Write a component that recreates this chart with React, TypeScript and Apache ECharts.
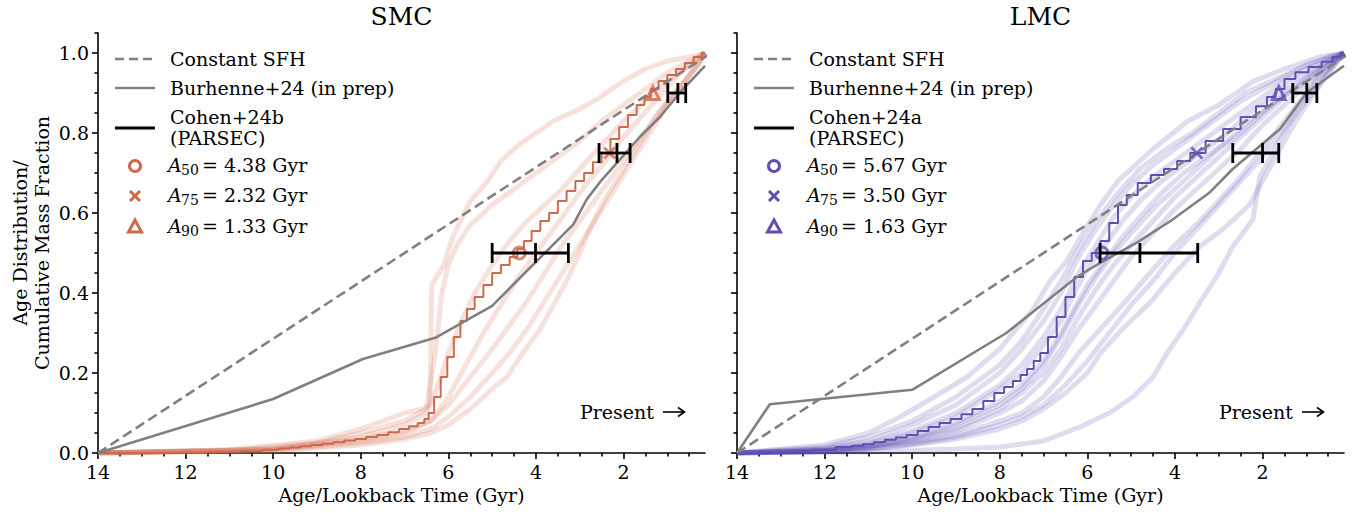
import React, { useEffect, useRef } from 'react';
import * as echarts from 'echarts';

const FONT = 'DejaVu Serif';
const SMC_COLOR = '#D0694B';
const LMC_COLOR = '#5E4FB4';
const GRAY = '#808080';
const FS = 19;

// ---- tick values ----
const xMajorTicks = [2, 4, 6, 8, 10, 12, 14];
const xMinorTicks = [0.5, 1, 1.5, 2.5, 3, 3.5, 4.5, 5, 5.5, 6.5, 7, 7.5, 8.5, 9, 9.5, 10.5, 11, 11.5, 12.5, 13, 13.5];
const yMajorTicks = [0, 0.2, 0.4, 0.6, 0.8, 1.0];
const yMinorTicks = [0.05, 0.1, 0.15, 0.25, 0.3, 0.35, 0.45, 0.5, 0.55, 0.65, 0.7, 0.75, 0.85, 0.9, 0.95, 1.05];

const panelTitles = ['SMC', 'LMC'];
const cohenLabels = ['Cohen+24b', 'Cohen+24a'];
const percentileLevels = [0.5, 0.75, 0.9];
const percentileNames = ['50', '75', '90'];

// ---- reference curves ----
const constantSFH: [number, number][] = [[14, 0], [0, 1]];

const smcBurhenne: [number, number][] = [
  [14, 0], [10, 0.135], [7.95, 0.235], [6.3, 0.288], [5.0, 0.368], [3.15, 0.571], [2.84, 0.634],
  [2.54, 0.677], [2.08, 0.734], [1.63, 0.79], [1.17, 0.84], [0.64, 0.91], [0.14, 0.968],
];
const lmcBurhenne: [number, number][] = [
  [14, 0], [13.25, 0.122], [10, 0.158], [7.85, 0.3], [6.24, 0.44], [5.7, 0.476], [4.87, 0.526],
  [4.1, 0.58], [3.2, 0.652], [2.68, 0.71], [1.6, 0.81], [1.0, 0.9], [0.14, 0.968],
];

// ---- Cohen best-fit cumulative SFHs ----
const smcCohen: [number, number][] = [
  [14, 0], [12, 0.001], [11, 0.003], [10.5, 0.005], [10, 0.008], [9.75, 0.011], [9.5, 0.014],
  [9.25, 0.017], [9, 0.02], [8.75, 0.023], [8.5, 0.027], [8.25, 0.031], [8, 0.035], [7.75, 0.04],
  [7.5, 0.045], [7.25, 0.052], [7.0, 0.06], [6.8, 0.067], [6.6, 0.075], [6.5, 0.085], [6.4, 0.1],
  [6.25, 0.14], [6.1, 0.19], [5.95, 0.24], [5.8, 0.29],
  [5.65, 0.33], [5.5, 0.36], [5.3, 0.39], [5.1, 0.42], [4.9, 0.45], [4.7, 0.47], [4.5, 0.49],
  [4.35, 0.51], [4.2, 0.53], [4.0, 0.555], [3.8, 0.58], [3.6, 0.6], [3.4, 0.63], [3.2, 0.655],
  [3.0, 0.68], [2.8, 0.7], [2.6, 0.727], [2.4, 0.75], [2.2, 0.785], [2.0, 0.815], [1.8, 0.845],
  [1.6, 0.87], [1.45, 0.89], [1.3, 0.91], [1.1, 0.93], [0.9, 0.945], [0.7, 0.96], [0.5, 0.975],
  [0.3, 0.99], [0.14, 1.0],
];
const lmcCohen: [number, number][] = [
  [14, 0], [13, 0.002], [12.5, 0.005], [12, 0.008], [11.5, 0.015], [11.25, 0.018], [11, 0.022],
  [10.75, 0.027], [10.5, 0.033], [10.25, 0.039], [10, 0.045], [9.75, 0.055], [9.5, 0.065],
  [9.25, 0.075], [9, 0.085], [8.75, 0.097], [8.5, 0.11], [8.25, 0.13], [8, 0.15], [7.8, 0.165],
  [7.6, 0.18], [7.45, 0.195], [7.3, 0.21], [7.15, 0.23], [7.0, 0.25],
  [6.8, 0.29], [6.6, 0.34], [6.4, 0.39], [6.2, 0.44], [6.0, 0.48], [5.8, 0.5], [5.6, 0.53],
  [5.4, 0.575], [5.2, 0.62], [5.0, 0.645], [4.7, 0.675], [4.4, 0.695], [4.1, 0.71], [3.8, 0.73],
  [3.5, 0.75], [3.1, 0.78], [2.7, 0.81], [2.3, 0.84], [2.0, 0.867], [1.8, 0.89], [1.6, 0.91],
  [1.4, 0.935], [1.1, 0.952], [0.8, 0.965], [0.5, 0.978], [0.3, 0.99], [0.14, 1.0],
];

// ---- faint realisations ----
const smcDraw1: [number, number][] = [[14, 0], [11, 0.008], [9, 0.03], [8, 0.06], [7.5, 0.08], [7, 0.1], [6.6, 0.11], [6.42, 0.12], [6.38, 0.42], [6.1, 0.47], [5.9, 0.54], [5.5, 0.63], [5.1, 0.68], [4.8, 0.73], [4.4, 0.77], [4.0, 0.8], [3.6, 0.83], [3.0, 0.86], [2.6, 0.885], [2.0, 0.93], [1.5, 0.96], [1.0, 0.98], [0.5, 0.99], [0.14, 1]];
const smcDraw2: [number, number][] = [[14, 0], [11, 0.006], [9, 0.025], [8, 0.05], [7, 0.08], [6.5, 0.11], [6.3, 0.25], [6.15, 0.4], [6.0, 0.47], [5.8, 0.52], [5.5, 0.57], [5.0, 0.62], [4.5, 0.66], [4.0, 0.7], [3.5, 0.74], [3.0, 0.78], [2.5, 0.83], [2.0, 0.87], [1.5, 0.91], [1.0, 0.95], [0.5, 0.98], [0.14, 1]];
const smcDraw3: [number, number][] = [[14, 0], [10, 0.01], [8, 0.04], [7, 0.07], [6.5, 0.1], [6.2, 0.18], [6.0, 0.25], [5.7, 0.33], [5.4, 0.4], [5.0, 0.47], [4.6, 0.53], [4.2, 0.58], [3.8, 0.62], [3.4, 0.66], [3.0, 0.71], [2.5, 0.77], [2.0, 0.83], [1.5, 0.88], [1.0, 0.93], [0.5, 0.97], [0.14, 1]];
const smcDraw4: [number, number][] = [[14, 0], [10, 0.008], [8, 0.03], [7, 0.05], [6.4, 0.08], [6.0, 0.14], [5.6, 0.22], [5.2, 0.3], [4.8, 0.37], [4.4, 0.44], [4.0, 0.5], [3.6, 0.56], [3.2, 0.62], [2.8, 0.68], [2.4, 0.73], [2.0, 0.79], [1.6, 0.84], [1.2, 0.89], [0.8, 0.94], [0.4, 0.98], [0.14, 1]];
const smcDraw5: [number, number][] = [[14, 0], [10, 0.006], [8, 0.025], [7, 0.04], [6.4, 0.06], [6.0, 0.09], [5.5, 0.14], [5.0, 0.2], [4.6, 0.25], [4.2, 0.31], [3.8, 0.38], [3.4, 0.45], [3.0, 0.52], [2.6, 0.59], [2.2, 0.66], [1.8, 0.73], [1.4, 0.8], [1.0, 0.87], [0.6, 0.93], [0.3, 0.97], [0.14, 1]];
const smcDraw6: [number, number][] = [[14, 0], [10, 0.005], [8, 0.02], [7, 0.035], [6.4, 0.05], [6.0, 0.07], [5.5, 0.11], [5.0, 0.16], [4.66, 0.19], [4.3, 0.25], [3.9, 0.31], [3.6, 0.37], [3.3, 0.43], [3.0, 0.5], [2.77, 0.56], [2.4, 0.64], [2.0, 0.71], [1.6, 0.78], [1.2, 0.85], [0.8, 0.9], [0.4, 0.96], [0.14, 1]];
const smcDraw7: [number, number][] = [[14, 0], [10, 0.01], [8, 0.035], [7, 0.055], [6.4, 0.08], [6.0, 0.12], [5.5, 0.19], [5.0, 0.26], [4.6, 0.32], [4.2, 0.38], [3.8, 0.45], [3.4, 0.52], [3.0, 0.58], [2.6, 0.64], [2.2, 0.7], [1.8, 0.76], [1.4, 0.82], [1.0, 0.88], [0.6, 0.93], [0.3, 0.97], [0.14, 1]];
const smcDraws = [smcDraw1, smcDraw2, smcDraw3, smcDraw4, smcDraw5, smcDraw6, smcDraw7];

const lmcDraw1: [number, number][] = [[14, 0], [12, 0.02], [11, 0.05], [10.28, 0.09], [9.5, 0.14], [8.75, 0.19], [8.0, 0.26], [7.24, 0.36], [6.85, 0.43], [6.47, 0.48], [6.1, 0.55], [5.7, 0.62], [5.3, 0.68], [4.5, 0.76], [3.7, 0.83], [3.0, 0.87], [2.2, 0.93], [1.5, 0.96], [0.7, 0.99], [0.14, 1]];
const lmcDraw2: [number, number][] = [[14, 0], [12, 0.012], [11, 0.03], [10, 0.07], [9, 0.12], [8, 0.2], [7.5, 0.26], [7.0, 0.33], [6.6, 0.4], [6.2, 0.49], [5.8, 0.56], [5.4, 0.62], [5.0, 0.67], [4.5, 0.72], [4.0, 0.76], [3.5, 0.8], [3.0, 0.84], [2.5, 0.88], [2.0, 0.91], [1.5, 0.94], [1.0, 0.97], [0.5, 0.99], [0.14, 1]];
const lmcDraw3: [number, number][] = [[14, 0], [12, 0.01], [11, 0.025], [10, 0.055], [9, 0.1], [8, 0.17], [7.5, 0.22], [7.0, 0.29], [6.6, 0.36], [6.2, 0.45], [5.8, 0.52], [5.4, 0.59], [5.0, 0.64], [4.5, 0.69], [4.0, 0.73], [3.5, 0.77], [3.0, 0.81], [2.5, 0.85], [2.0, 0.89], [1.5, 0.93], [1.0, 0.96], [0.5, 0.985], [0.14, 1]];
const lmcDraw4: [number, number][] = [[14, 0], [12, 0.006], [11, 0.018], [10, 0.035], [9, 0.07], [8, 0.12], [7.5, 0.16], [7.0, 0.22], [6.6, 0.29], [6.2, 0.37], [5.8, 0.44], [5.4, 0.5], [5.0, 0.55], [4.5, 0.61], [4.0, 0.66], [3.5, 0.71], [3.0, 0.76], [2.5, 0.8], [2.0, 0.85], [1.5, 0.9], [1.0, 0.94], [0.5, 0.98], [0.14, 1]];
const lmcDraw5: [number, number][] = [[14, 0], [12, 0.005], [11, 0.015], [10, 0.03], [9, 0.055], [8, 0.1], [7.5, 0.13], [7.0, 0.18], [6.6, 0.24], [6.2, 0.31], [5.8, 0.37], [5.4, 0.43], [5.0, 0.49], [4.5, 0.55], [4.0, 0.61], [3.5, 0.66], [3.0, 0.71], [2.5, 0.76], [2.0, 0.82], [1.5, 0.87], [1.0, 0.92], [0.5, 0.97], [0.14, 1]];
const lmcDraw6: [number, number][] = [[14, 0], [12, 0.004], [11, 0.012], [10, 0.025], [9, 0.045], [8, 0.08], [7.5, 0.1], [7.0, 0.14], [6.6, 0.19], [6.2, 0.25], [5.7, 0.31], [5.2, 0.37], [4.57, 0.45], [4.0, 0.52], [3.43, 0.58], [3.0, 0.63], [2.5, 0.69], [2.0, 0.76], [1.5, 0.83], [1.0, 0.9], [0.5, 0.96], [0.14, 1]];
const lmcDraw7: [number, number][] = [[14, 0], [12, 0.003], [11, 0.01], [10, 0.02], [9, 0.035], [8, 0.06], [7.5, 0.08], [7.0, 0.11], [6.5, 0.15], [6.0, 0.2], [5.7, 0.25], [5.2, 0.31], [4.57, 0.376], [4.0, 0.45], [3.43, 0.516], [2.9, 0.56], [2.3, 0.62], [1.8, 0.72], [1.4, 0.8], [1.0, 0.87], [0.5, 0.95], [0.14, 1]];
const lmcDraw8: [number, number][] = [[14, 0], [11, 0.003], [10, 0.006], [9, 0.01], [8, 0.015], [7, 0.03], [6.17, 0.065], [5.5, 0.1], [4.96, 0.14], [4.5, 0.19], [4.18, 0.25], [3.8, 0.31], [3.43, 0.376], [3.0, 0.45], [2.68, 0.516], [2.22, 0.584], [2.06, 0.69], [1.6, 0.784], [1.2, 0.86], [0.8, 0.93], [0.4, 0.97], [0.14, 1]];
const lmcDraw9: [number, number][] = [[14, 0], [12, 0.008], [11, 0.02], [10, 0.05], [9, 0.09], [8, 0.16], [7.5, 0.2], [7.0, 0.27], [6.6, 0.33], [6.3, 0.4], [6.0, 0.46], [5.6, 0.52], [5.2, 0.58], [4.8, 0.63], [4.3, 0.68], [3.8, 0.72], [3.3, 0.76], [2.8, 0.8], [2.3, 0.85], [1.8, 0.89], [1.3, 0.93], [0.8, 0.96], [0.4, 0.985], [0.14, 1]];
const lmcDraw10: [number, number][] = [[14, 0], [12, 0.005], [11, 0.015], [10, 0.04], [9, 0.075], [8, 0.13], [7.5, 0.17], [7.0, 0.23], [6.6, 0.3], [6.3, 0.36], [6.0, 0.42], [5.6, 0.48], [5.2, 0.54], [4.8, 0.59], [4.3, 0.65], [3.8, 0.7], [3.3, 0.74], [2.8, 0.78], [2.3, 0.83], [1.8, 0.87], [1.3, 0.91], [0.8, 0.95], [0.4, 0.98], [0.14, 1]];
const lmcDraw11: [number, number][] = [[14, 0], [12, 0.015], [11, 0.04], [10, 0.08], [9, 0.14], [8, 0.22], [7.5, 0.28], [7, 0.36], [6.6, 0.43], [6.2, 0.51], [5.8, 0.58], [5.3, 0.65], [4.8, 0.71], [4.2, 0.76], [3.6, 0.8], [3.0, 0.85], [2.4, 0.9], [1.8, 0.93], [1.2, 0.96], [0.6, 0.985], [0.14, 1]];
const lmcDraw12: [number, number][] = [[14, 0], [12, 0.006], [11, 0.015], [10, 0.035], [9, 0.06], [8, 0.11], [7.5, 0.15], [7, 0.2], [6.6, 0.26], [6.2, 0.34], [5.8, 0.41], [5.4, 0.47], [5.0, 0.52], [4.5, 0.58], [4.0, 0.64], [3.5, 0.69], [3.0, 0.74], [2.5, 0.79], [2.0, 0.84], [1.5, 0.89], [1.0, 0.93], [0.5, 0.97], [0.14, 1]];
const lmcDraw13: [number, number][] = [[14, 0], [12, 0.004], [11, 0.01], [10, 0.022], [9, 0.04], [8, 0.07], [7.5, 0.09], [7, 0.12], [6.5, 0.17], [6, 0.23], [5.5, 0.3], [5, 0.37], [4.5, 0.43], [4, 0.5], [3.5, 0.56], [3, 0.62], [2.5, 0.68], [2, 0.74], [1.5, 0.81], [1, 0.88], [0.5, 0.95], [0.14, 1]];
const lmcDraws = [lmcDraw1, lmcDraw2, lmcDraw3, lmcDraw4, lmcDraw5, lmcDraw6, lmcDraw7, lmcDraw8, lmcDraw9, lmcDraw10, lmcDraw11, lmcDraw12, lmcDraw13];

// ---- percentile ages ----
const smcPercentileAges = [4.38, 2.32, 1.33];
const lmcPercentileAges = [5.67, 3.5, 1.63];
// Cohen error bars: [older bound, value, younger bound]
const smcErrBars = [[5.0, 4.01, 3.26], [2.56, 2.15, 1.85], [0.99, 0.76, 0.58]];
const lmcErrBars = [[5.71, 4.8, 3.48], [2.68, 2.0, 1.63], [1.31, 0.99, 0.76]];

const X_MIN = 0.14;
const X_MAX = 14;

function buildOption() {
  const grids = [
    { left: 98, top: 33, width: 607, height: 420 },
    { left: 737, top: 33, width: 607, height: 420 },
  ];
  const axisLineStyle = { color: '#000', width: 1.6 };
  const xAxes: any[] = [];
  const yAxes: any[] = [];
  [0, 1].forEach((g) => {
    xAxes.push({
      type: 'value', gridIndex: g, min: X_MIN, max: X_MAX, inverse: true, position: 'bottom',
      axisLine: { show: true, onZero: false, lineStyle: axisLineStyle },
      axisTick: { show: true, length: 6, lineStyle: axisLineStyle, customValues: xMajorTicks },
      axisLabel: { show: true, customValues: xMajorTicks, color: '#000', fontFamily: FONT, fontSize: FS, margin: 9, formatter: (v: number) => String(v) },
      splitLine: { show: false },
      name: 'Age/Lookback Time (Gyr)', nameLocation: 'middle', nameGap: 31,
      nameTextStyle: { color: '#000', fontFamily: FONT, fontSize: FS },
    });
    yAxes.push({
      type: 'value', gridIndex: g, min: 0, max: 1.05, position: 'left',
      axisLine: { show: true, onZero: false, lineStyle: axisLineStyle },
      axisTick: { show: true, length: 6, lineStyle: axisLineStyle, customValues: yMajorTicks },
      axisLabel: { show: g === 0, customValues: yMajorTicks, color: '#000', fontFamily: FONT, fontSize: FS, margin: 9, formatter: (v: number) => v.toFixed(1) },
      splitLine: { show: false },
    });
  });
  [0, 1].forEach((g) => {
    xAxes.push({
      type: 'value', gridIndex: g, min: X_MIN, max: X_MAX, inverse: true, position: 'bottom',
      axisLine: { show: false, onZero: false },
      axisTick: { show: true, length: 3.5, lineStyle: axisLineStyle, customValues: xMinorTicks },
      axisLabel: { show: false }, splitLine: { show: false },
    });
    yAxes.push({
      type: 'value', gridIndex: g, min: 0, max: 1.05, position: 'left',
      axisLine: { show: false, onZero: false },
      axisTick: { show: true, length: 3.5, lineStyle: axisLineStyle, customValues: yMinorTicks },
      axisLabel: { show: false }, splitLine: { show: false },
    });
  });

  const series: any[] = [];
  const panels = [
    { color: SMC_COLOR, draws: smcDraws, main: smcCohen, burh: smcBurhenne, ages: smcPercentileAges, err: smcErrBars },
    { color: LMC_COLOR, draws: lmcDraws, main: lmcCohen, burh: lmcBurhenne, ages: lmcPercentileAges, err: lmcErrBars },
  ];
  panels.forEach((p, g) => {
    p.draws.forEach((d) => {
      series.push({
        type: 'line', xAxisIndex: g, yAxisIndex: g, data: d, showSymbol: false, silent: true,
        lineStyle: { color: p.color, width: 5, opacity: 0.2 }, z: 1,
      });
    });
    series.push({
      type: 'line', xAxisIndex: g, yAxisIndex: g, data: p.main, showSymbol: false, silent: true,
      step: 'middle', lineStyle: { color: p.color, width: 2 }, z: 3,
    });
    series.push({
      type: 'line', xAxisIndex: g, yAxisIndex: g, data: constantSFH, showSymbol: false, silent: true,
      lineStyle: { color: GRAY, width: 2.6, type: [10, 5] }, z: 4,
    });
    series.push({
      type: 'line', xAxisIndex: g, yAxisIndex: g, data: p.burh, showSymbol: false, silent: true,
      lineStyle: { color: GRAY, width: 2.6 }, z: 4,
    });
    const symbols = ['circle', 'path://M0,0L10,10M10,0L0,10', 'triangle'];
    const sizes = [12, 11, 13];
    p.ages.forEach((a, i) => {
      series.push({
        type: 'scatter', xAxisIndex: g, yAxisIndex: g, data: [[a, percentileLevels[i]]], symbol: symbols[i],
        symbolSize: sizes[i], silent: true, z: 5,
        itemStyle: { color: 'rgba(0,0,0,0)', borderColor: p.color, borderWidth: 3 },
      });
    });
    series.push({
      type: 'custom', xAxisIndex: g, yAxisIndex: g, silent: true, z: 6, clip: false,
      data: p.err.map((e, i) => [e[0], e[1], e[2], percentileLevels[i]]),
      renderItem: (params: any, api: any) => {
        const y = api.value(3);
        const a = api.coord([api.value(0), y]);
        const b = api.coord([api.value(1), y]);
        const c = api.coord([api.value(2), y]);
        const h = 10;
        const style = { stroke: '#000', lineWidth: 2.8, fill: null };
        const cap = (pt: number[]) => ({ type: 'line', shape: { x1: pt[0], y1: pt[1] - h, x2: pt[0], y2: pt[1] + h }, style });
        return {
          type: 'group',
          children: [
            { type: 'line', shape: { x1: a[0], y1: a[1], x2: c[0], y2: c[1] }, style },
            cap(a), cap(b), cap(c),
          ],
        };
      },
    });
  });

  const graphic: any[] = [];
  const textStyle = (text: string, extra: any = {}) => ({
    text, fill: '#000', font: `${FS}px "${FONT}"`, ...extra,
  });
  [0, 1].forEach((g) => {
    const ox = g * 639;
    const color = panels[g].color;
    graphic.push({ type: 'text', x: 401.5 + ox, y: 16, style: textStyle(panelTitles[g], { font: `25px "${FONT}"`, align: 'center', verticalAlign: 'middle' }) });
    // legend lines
    graphic.push({ type: 'line', shape: { x1: 115 + ox, y1: 59, x2: 155 + ox, y2: 59 }, style: { stroke: GRAY, lineWidth: 2.6, lineDash: [9, 5] } });
    graphic.push({ type: 'text', x: 170 + ox, y: 59, style: textStyle('Constant SFH', { verticalAlign: 'middle' }) });
    graphic.push({ type: 'line', shape: { x1: 115 + ox, y1: 88, x2: 155 + ox, y2: 88 }, style: { stroke: GRAY, lineWidth: 2.6 } });
    graphic.push({ type: 'text', x: 170 + ox, y: 88, style: textStyle('Burhenne+24 (in prep)', { verticalAlign: 'middle' }) });
    graphic.push({ type: 'line', shape: { x1: 115 + ox, y1: 128, x2: 155 + ox, y2: 128 }, style: { stroke: '#000', lineWidth: 2.8 } });
    graphic.push({ type: 'text', x: 170 + ox, y: 117, style: textStyle(cohenLabels[g], { verticalAlign: 'middle' }) });
    graphic.push({ type: 'text', x: 170 + ox, y: 138, style: textStyle('(PARSEC)', { verticalAlign: 'middle' }) });
    // legend markers
    graphic.push({ type: 'circle', shape: { cx: 135 + ox, cy: 166, r: 5.5 }, style: { fill: 'none', stroke: color, lineWidth: 3 } });
    graphic.push({ type: 'line', shape: { x1: 130 + ox, y1: 191, x2: 140 + ox, y2: 201 }, style: { stroke: color, lineWidth: 3 } });
    graphic.push({ type: 'line', shape: { x1: 140 + ox, y1: 191, x2: 130 + ox, y2: 201 }, style: { stroke: color, lineWidth: 3 } });
    graphic.push({ type: 'polygon', shape: { points: [[135 + ox, 220], [141.5 + ox, 232], [128.5 + ox, 232]] }, style: { fill: 'none', stroke: color, lineWidth: 3, lineJoin: 'miter' } });
    const ages = panels[g].ages;
    const rowsY = [165, 195, 226];
    rowsY.forEach((ry, i) => {
      graphic.push({ type: 'text', x: 168 + ox, y: ry, style: textStyle('A', { verticalAlign: 'middle', font: `italic ${FS}px "${FONT}"` }) });
      graphic.push({ type: 'text', x: 181 + ox, y: ry + 5, style: textStyle(percentileNames[i], { verticalAlign: 'middle', font: `14px "${FONT}"` }) });
      graphic.push({ type: 'text', x: 202 + ox, y: ry, style: textStyle('= ' + ages[i].toFixed(2) + ' Gyr', { verticalAlign: 'middle' }) });
    });
    // "Present ->" annotation
    graphic.push({ type: 'text', x: 580 + ox, y: 412, style: textStyle('Present', { verticalAlign: 'middle' }) });
    graphic.push({ type: 'line', shape: { x1: 663 + ox, y1: 412, x2: 684 + ox, y2: 412 }, style: { stroke: '#000', lineWidth: 1.6 } });
    graphic.push({ type: 'polyline', shape: { points: [[678 + ox, 407.5], [684.5 + ox, 412], [678 + ox, 416.5]] }, style: { stroke: '#000', lineWidth: 1.6, fill: 'none' } });
  });
  graphic.push({
    type: 'text', x: 31, y: 243, rotation: Math.PI / 2,
    style: textStyle('Age Distribution/\nCumulative Mass Fraction', { align: 'center', verticalAlign: 'middle', lineHeight: 22 }),
  });

  return {
    animation: false,
    backgroundColor: '#fff',
    grid: grids,
    xAxis: xAxes,
    yAxis: yAxes,
    series,
    graphic,
  };
}

export default function App() {
  const ref = useRef<HTMLDivElement>(null);
  useEffect(() => {
    if (!ref.current) return;
    const chart = echarts.init(ref.current, undefined, { renderer: 'svg' });
    chart.setOption(buildOption() as any);
    return () => chart.dispose();
  }, []);
  return <div ref={ref} style={{ position: 'absolute', left: 0, top: 0, width: 1364, height: 513 }} />;
}
